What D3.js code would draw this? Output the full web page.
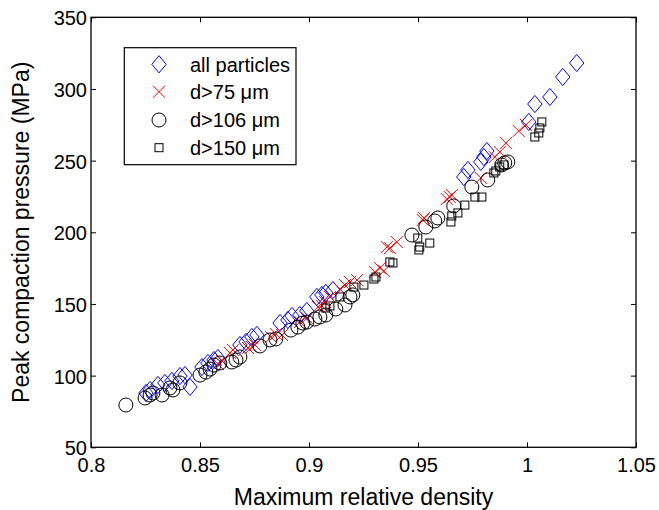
<!DOCTYPE html>
<html>
<head>
<meta charset="utf-8">
<script src="https://cdn.jsdelivr.net/npm/d3@7"></script>
<style>
  html, body { margin: 0; padding: 0; background: #fff; }
  svg { display: block; }
  text { font-family: "Liberation Sans", Arial, Helvetica, sans-serif; fill: #000; }
</style>
</head>
<body>
<svg id="chart" width="659" height="510"></svg>
<script>
// ---------- data ----------
const allParticlesX = [0.8252,0.8271,0.8307,0.8339,0.8371,0.8408,0.8431,0.8454,0.8509,0.8536,0.8564,0.8582,0.8683,0.8711,0.8738,0.8761,0.8867,0.8903,0.8922,0.8958,0.8990,0.9036,0.9059,0.9077,0.9110,0.9710,0.9729,0.9788,0.9802,0.9816,1.0008,1.0036,1.0105,1.0164,1.0228];
const allParticlesY = [87.9,90.0,93.5,94.9,96.3,99.7,100.4,92.1,106.0,108.8,110.9,112.3,121.4,123.5,127.0,128.4,136.7,138.8,141.6,142.3,145.1,154.9,156.3,157.7,159.7,238.6,243.5,249.1,252.5,256.7,277.0,289.5,294.4,308.4,318.1];

const d75X = [0.8582,0.8601,0.8637,0.8651,0.8720,0.8738,0.8752,0.8825,0.8848,0.8876,0.8958,0.8990,0.9041,0.9059,0.9073,0.9096,0.9142,0.9165,0.9188,0.9220,0.9302,0.9325,0.9343,0.9357,0.9371,0.9403,0.9522,0.9527,0.9632,0.9646,0.9655,0.9788,0.9852,0.9875,0.9903,0.9962,0.9995];
const d75Y = [108.1,110.2,115.8,117.9,119.3,120.0,121.4,127.0,129.0,128.4,137.4,140.2,147.9,148.6,151.4,154.9,160.4,163.2,165.3,166.7,172.3,175.1,173.0,189.7,189.0,193.2,208.6,210.0,223.2,224.6,226.0,237.9,252.5,256.0,262.3,270.7,274.9];

const d106X = [0.8160,0.8248,0.8271,0.8284,0.8326,0.8362,0.8376,0.8408,0.8500,0.8527,0.8546,0.8564,0.8591,0.8646,0.8665,0.8683,0.8775,0.8821,0.8848,0.8917,0.8949,0.8972,0.8990,0.9027,0.9050,0.9077,0.9123,0.9165,0.9188,0.9201,0.9472,0.9536,0.9577,0.9591,0.9664,0.9747,0.9820,0.9884,0.9898,0.9912];
const d106Y = [79.5,84.4,86.5,87.9,86.5,91.4,90.0,94.9,100.4,102.5,104.6,107.4,108.8,109.5,110.9,113.0,120.7,124.9,125.6,131.8,133.9,136.7,137.4,139.5,140.9,142.3,146.5,149.3,154.9,156.3,198.1,203.7,207.9,210.0,218.4,231.6,236.5,247.0,248.4,249.1];

const d150X = [0.9077,0.9096,0.9142,0.9206,0.9252,0.9298,0.9307,0.9371,0.9385,0.9499,0.9504,0.9508,0.9554,0.9651,0.9655,0.9683,0.9715,0.9761,0.9793,0.9848,0.9857,0.9875,0.9894,1.0036,1.0054,1.0059,1.0068];
const d150Y = [147.2,148.6,154.9,161.8,163.2,167.4,168.8,179.3,178.6,196.0,187.7,189.7,192.5,207.2,211.4,213.5,219.0,224.6,224.6,241.4,242.8,245.6,247.0,266.5,269.3,272.8,277.0];

const xTickValues = [0.8,0.85,0.9,0.95,1,1.05];
const xTickLabels = ["0.8","0.85","0.9","0.95","1","1.05"];
const yTickValues = [50,100,150,200,250,300,350];
const yTickLabels = ["50","100","150","200","250","300","350"];

const legendLabels = ["all particles","d>75 \u03BCm","d>106 \u03BCm","d>150 \u03BCm"];
const xAxisTitle = "Maximum relative density";
const yAxisTitle = "Peak compaction pressure (MPa)";

// ---------- layout ----------
const svg = d3.select("#chart");
const L = 91, R = 636, T = 17.3, B = 447.3;
const x = d3.scaleLinear().domain([0.8,1.05]).range([L,R]);
const y = d3.scaleLinear().domain([50,350]).range([B,T]);
const tickLen = 5;

svg.append("rect").attr("width",659).attr("height",510).attr("fill","#fff");

// axes (ticks inward on all four sides)
const fmtX = d => xTickLabels[xTickValues.indexOf(d)];
const fmtY = d => yTickLabels[yTickValues.indexOf(d)];

const gB = svg.append("g").attr("transform",`translate(0,${B})`)
  .call(d3.axisBottom(x).tickValues(xTickValues).tickFormat(fmtX).tickSizeInner(-tickLen).tickSizeOuter(0).tickPadding(0));
const gT = svg.append("g").attr("transform",`translate(0,${T})`)
  .call(d3.axisTop(x).tickValues(xTickValues).tickFormat("").tickSizeInner(-tickLen).tickSizeOuter(0));
const gL = svg.append("g").attr("transform",`translate(${L},0)`)
  .call(d3.axisLeft(y).tickValues(yTickValues).tickFormat(fmtY).tickSizeInner(-tickLen).tickSizeOuter(0).tickPadding(0));
const gR = svg.append("g").attr("transform",`translate(${R},0)`)
  .call(d3.axisRight(y).tickValues(yTickValues).tickFormat("").tickSizeInner(-tickLen).tickSizeOuter(0));

[gB,gT,gL,gR].forEach(g => {
  g.select(".domain").remove();
  g.selectAll(".tick line").attr("stroke","#000").attr("stroke-width",1);
});
gB.selectAll(".tick text").attr("y",24.5).attr("dy",null)
  .attr("font-size",20).attr("font-family","'Liberation Sans', Arial, sans-serif").attr("fill","#000");
gL.selectAll(".tick text").attr("x",-4).attr("dy","0.38em")
  .attr("font-size",20).attr("font-family","'Liberation Sans', Arial, sans-serif").attr("fill","#000");

// frame
svg.append("rect").attr("x",L).attr("y",T).attr("width",R-L).attr("height",B-T)
  .attr("fill","none").attr("stroke","#000").attr("stroke-width",1.3);

// axis titles
svg.append("text").attr("x",(L+R)/2).attr("y",505).attr("text-anchor","middle")
  .attr("font-size",23).text(xAxisTitle);
svg.append("text").attr("transform",`translate(29,${(T+B)/2}) rotate(-90)`).attr("text-anchor","middle")
  .attr("font-size",23).text(yAxisTitle);

// ---------- marker painters ----------
const DW = 7.2, DH = 8.6, CR = 7, SQ = 4, XS = 6;
function diamond(g, cx, cy){
  g.append("path").attr("d",`M${cx},${cy-DH}L${cx+DW},${cy}L${cx},${cy+DH}L${cx-DW},${cy}Z`)
    .attr("fill","none").attr("stroke","#0000ff").attr("stroke-width",1);
}
function cross(g, cx, cy){
  g.append("path").attr("d",`M${cx-XS},${cy-XS}L${cx+XS},${cy+XS}M${cx-XS},${cy+XS}L${cx+XS},${cy-XS}`)
    .attr("fill","none").attr("stroke","#ff0000").attr("stroke-width",1);
}
function circle(g, cx, cy){
  g.append("circle").attr("cx",cx).attr("cy",cy).attr("r",CR)
    .attr("fill","none").attr("stroke","#000").attr("stroke-width",1);
}
function square(g, cx, cy){
  g.append("rect").attr("x",cx-SQ).attr("y",cy-SQ).attr("width",2*SQ).attr("height",2*SQ)
    .attr("fill","none").attr("stroke","#000").attr("stroke-width",1);
}

const series = [
  {xs: allParticlesX, ys: allParticlesY, draw: diamond},
  {xs: d75X, ys: d75Y, draw: cross},
  {xs: d106X, ys: d106Y, draw: circle},
  {xs: d150X, ys: d150Y, draw: square}
];
const plot = svg.append("g");
series.forEach(s => {
  const g = plot.append("g");
  s.xs.forEach((xv,i) => s.draw(g, x(xv), y(s.ys[i])));
});

// ---------- legend ----------
const lg = svg.append("g");
lg.append("rect").attr("x",124.3).attr("y",47.7).attr("width",171.7).attr("height",117)
  .attr("fill","#fff").attr("stroke","#000").attr("stroke-width",1.2);
const rowY = [64.3, 91.7, 120, 147.7];
series.forEach((s,i) => {
  s.draw(lg, 159, rowY[i]);
  lg.append("text").attr("x",190).attr("y",rowY[i]).attr("dy","0.36em")
    .attr("font-size",20).text(legendLabels[i]);
});
</script>
</body>
</html>
